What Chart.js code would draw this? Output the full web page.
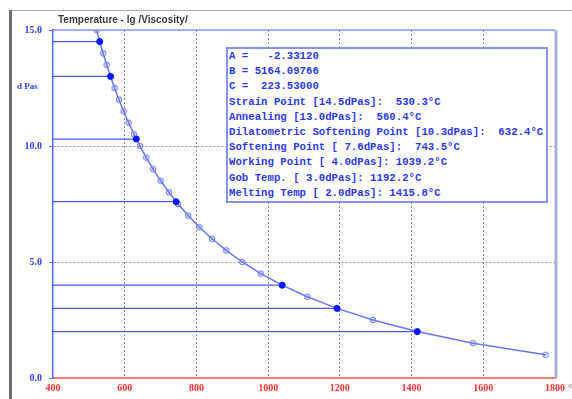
<!DOCTYPE html>
<html>
<head>
<meta charset="utf-8">
<script src="https://cdn.jsdelivr.net/npm/chart.js@4.4.1/dist/chart.umd.min.js"></script>
<style>
  body { margin: 0; background: #fff; }
  #wrap { position: relative; width: 572px; height: 399px; overflow: hidden; }
  #info {
    position: absolute; left: 226px; top: 47px; width: 317px; height: 152px;
    border: 2px solid #8a90ee; background: #fff;
    font: bold 10.7px "Liberation Mono", "DejaVu Sans Mono", monospace;
    color: #2d3af2; line-height: 15.2px; white-space: pre; padding-left: 1px;
  }
</style>
</head>
<body>
<div id="wrap">
  <canvas id="chart" width="572" height="399"></canvas>
  <div id="info"></div>
</div>
<script>
// Coeficientes VFT
const coefNames = ['A', 'B', 'C'];
const coefValues = [-2.33120, 5164.09766, 223.53000];

// Curva (lg dPas vs temperatura)
const curveLevels = [15, 14.5, 14, 13.5, 13, 12.5, 12, 11.5, 11, 10.5, 10, 9.5, 9, 8.5, 8,
  7.5, 7, 6.5, 6, 5.5, 5, 4.5, 4, 3.5, 3, 2.5, 2, 1.5, 1];
const curveTemps = [521.5, 530.3, 539.7, 549.7, 560.4, 571.7, 583.9, 596.9, 610.9, 626.0, 642.3,
  660.0, 679.3, 700.3, 723.4, 748.8, 776.9, 808.3, 843.4, 883.0, 927.9, 979.5, 1039.2,
  1109.1, 1192.2, 1292.4, 1415.8, 1571.4, 1773.7];

// Puntos característicos
const keyNames = ['Strain Point', 'Annealing', 'Dilatometric Softening Point', 'Softening Point',
  'Working Point', 'Gob Temp.', 'Melting Temp'];
const keyLevels = [14.5, 13.0, 10.3, 7.6, 4.0, 3.0, 2.0];
const keyTemps = [530.3, 560.4, 632.4, 743.5, 1039.2, 1192.2, 1415.8];

const xTicks = [400, 600, 800, 1000, 1200, 1400, 1600, 1800];
const yTicks = [0, 5, 10, 15];

// -------- Cuadro de texto --------
const lines = coefNames.map((n, i) => n + ' = ' + coefValues[i].toFixed(5).padStart(10));
keyNames.forEach((n, i) => {
  const lvl = keyLevels[i].toFixed(1).padStart(4);
  const t = keyTemps[i].toFixed(1).padStart(6);
  lines.push(n + ' [' + lvl + 'dPas]: ' + t + '°C');
});
document.getElementById('info').textContent = lines.join('\n');

// -------- Marcador abierto (círculo con barra) --------
const openMark = document.createElement('canvas');
openMark.width = 8; openMark.height = 8;
{
  const c = openMark.getContext('2d');
  c.strokeStyle = '#6c76f2';
  c.lineWidth = 1;
  c.beginPath(); c.arc(4, 4, 2.8, 0, Math.PI * 2); c.stroke();
  c.beginPath(); c.moveTo(2.3, 5.7); c.lineTo(5.7, 2.3); c.stroke();
}

const datasets = [];

keyLevels.forEach((lv, i) => {
  datasets.push({
    data: [{ x: xTicks[0], y: lv }, { x: keyTemps[i], y: lv }],
    showLine: true,
    borderColor: '#4c58f2',
    borderWidth: 1.3,
    pointRadius: 0,
    order: 3
  });
});

datasets.push({
  data: curveTemps.map((t, i) => ({ x: t, y: curveLevels[i] })),
  showLine: true,
  borderColor: '#6a76f6',
  borderWidth: 1.5,
  pointStyle: openMark,
  pointRadius: 4,
  order: 2
});

datasets.push({
  data: keyTemps.map((t, i) => ({ x: t, y: keyLevels[i] })),
  showLine: false,
  pointRadius: 3,
  pointBackgroundColor: '#0a16ff',
  pointBorderColor: '#0a16ff',
  order: 1
});

// -------- Marco y textos --------
const framePlugin = {
  id: 'frame',
  beforeDraw(chart) {
    const ctx = chart.ctx;
    ctx.save();
    ctx.fillStyle = '#fff';
    ctx.fillRect(0, 0, chart.width, chart.height);
    ctx.strokeStyle = '#a8a8a8';
    ctx.lineWidth = 1;
    ctx.beginPath(); ctx.moveTo(10, 10.5); ctx.lineTo(572, 10.5); ctx.stroke();
    ctx.strokeStyle = '#6e6e6e';
    ctx.lineWidth = 3;
    ctx.beginPath(); ctx.moveTo(10.5, 10); ctx.lineTo(10.5, 399); ctx.stroke();
    ctx.restore();
  },
  afterDraw(chart) {
    const { ctx, chartArea: a } = chart;
    ctx.save();
    ctx.strokeStyle = '#8a92ee';
    ctx.lineWidth = 1.5;
    ctx.beginPath(); ctx.moveTo(a.left, a.top); ctx.lineTo(a.right, a.top); ctx.stroke();
    ctx.strokeStyle = '#aab0e0';
    ctx.lineWidth = 3;
    ctx.beginPath(); ctx.moveTo(a.right + 1, a.top); ctx.lineTo(a.right + 1, a.bottom); ctx.stroke();

    ctx.fillStyle = '#3a3a3a';
    ctx.font = 'bold 10px "Liberation Sans", Arial, sans-serif';
    ctx.textBaseline = 'middle';
    ctx.fillText('Temperature - lg /Viscosity/', 58, 20);

    ctx.fillStyle = '#3040ff';
    ctx.font = 'bold 9px "Liberation Serif", serif';
    ctx.fillText('d Pas', 17, 87);

    ctx.fillStyle = '#a07070';
    ctx.font = 'bold 10px "Liberation Serif", serif';
    ctx.fillText('°C', 568, 389);
    ctx.restore();
  }
};

new Chart(document.getElementById('chart'), {
  type: 'scatter',
  data: { datasets },
  plugins: [framePlugin],
  options: {
    responsive: false,
    animation: false,
    layout: { padding: { top: 30, right: 17, left: 0, bottom: 0 } },
    plugins: { legend: { display: false }, tooltip: { enabled: false } },
    scales: {
      x: {
        type: 'linear',
        min: 400, max: 1800,
        afterBuildTicks: s => { s.ticks = xTicks.map(v => ({ value: v })); },
        afterFit: s => { s.height = 21; },
        ticks: {
          color: '#ff3030',
          font: { family: '"Liberation Serif", serif', size: 10, weight: 'bold' },
          padding: 4,
          maxRotation: 0,
          callback: v => String(v)
        },
        grid: {
          drawTicks: false,
          color: c => (c.tick && (c.tick.value === 400 || c.tick.value === 1800)) ? 'rgba(0,0,0,0)' : '#8a8a8a'
        },
        border: { color: '#ff7878', width: 2, dash: [2, 2] }
      },
      y: {
        type: 'linear',
        min: 0, max: 15,
        afterBuildTicks: s => { s.ticks = yTicks.map(v => ({ value: v })); },
        afterFit: s => { s.width = 53; },
        ticks: {
          color: '#3040ff',
          font: { family: '"Liberation Serif", serif', size: 10, weight: 'bold' },
          padding: 7,
          callback: v => Number(v).toFixed(1)
        },
        grid: {
          tickLength: 4,
          tickColor: '#5a66f6',
          color: c => (c.tick && (c.tick.value === 5 || c.tick.value === 10)) ? '#8a8a8a' : 'rgba(0,0,0,0)'
        },
        border: { color: '#5a66f6', width: 1.5, dash: [2, 2] }
      }
    }
  }
});
</script>
</body>
</html>
